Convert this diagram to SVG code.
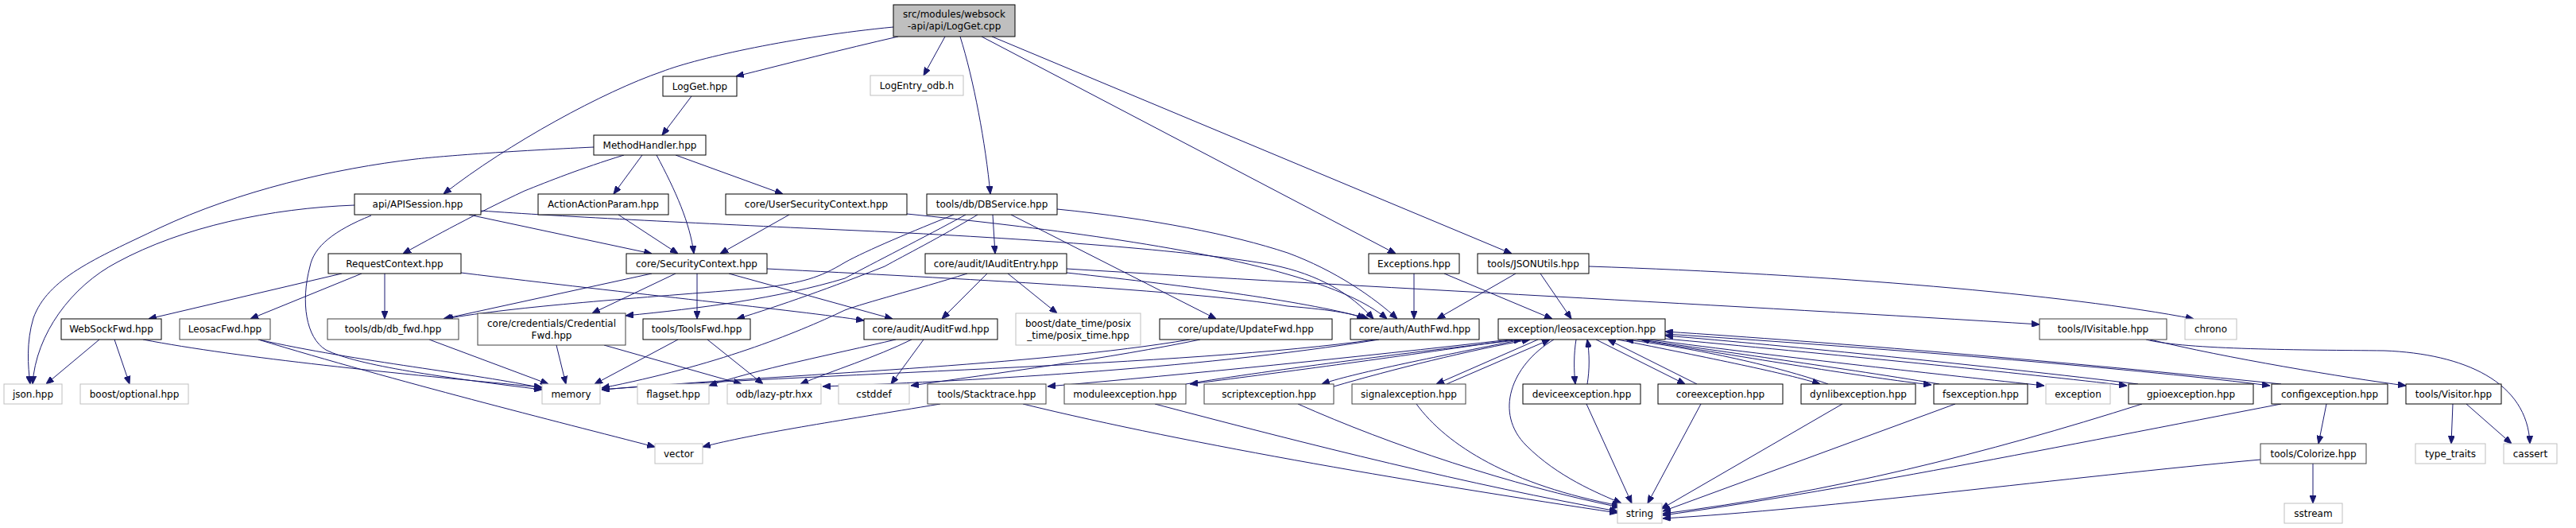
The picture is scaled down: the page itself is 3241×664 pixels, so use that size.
<svg xmlns="http://www.w3.org/2000/svg" width="3241" height="664" viewBox="0 0 3241 664">
<style>
rect{fill:#fff;stroke:#000;stroke-width:1}
.g rect{stroke:#bfbfbf}
.d rect{stroke:#404040}
.r rect{fill:#bfbfbf}
text{font-family:"DejaVu Sans","Liberation Sans",sans-serif;font-size:12px;text-anchor:middle;fill:#000}
#edges path{fill:none;stroke:#191970;stroke-width:1;marker-end:url(#a)}
</style>
<defs>
<marker id="a" markerUnits="userSpaceOnUse" markerWidth="10" markerHeight="8" viewBox="0 0 10 8" refX="10" refY="4" orient="auto"><path d="M0,0 L10,4 L0,8 z" fill="#191970" stroke="#191970"/></marker>
</defs>
<rect x="0" y="0" width="3241" height="664" style="stroke:none"/>
<g id="edges">
<path d="M1130,46 C1060,62 990,80 926,96"/>
<path d="M1189,46 L1162,95"/>
<path d="M1208,46 C1225,100 1240,180 1246,244"/>
<path d="M1235,46 L1756,319"/>
<path d="M1248,46 L1902,319"/>
<path d="M1124,34 C1000,46 880,72 833,90 C760,115 640,180 558,244"/>
<path d="M870,121 L833,170"/>
<path d="M747,185 C640,190 560,196 523,200 C420,212 300,240 200,287 C120,325 60,350 42,400 C33,430 35,460 38,483"/>
<path d="M808,195 L772,244"/>
<path d="M826,195 C850,240 868,280 873,319"/>
<path d="M850,195 L985,244"/>
<path d="M785,195 C730,212 690,228 660,240 C600,268 545,298 507,319"/>
<path d="M446,258 C340,262 230,285 147,330 C90,360 45,420 41,483"/>
<path d="M467,271 C420,290 395,310 390,335 C378,380 385,425 410,440 C450,460 560,475 682,490"/>
<path d="M590,270 L820,319"/>
<path d="M605,265 C700,272 900,282 1080,290 C1300,300 1500,315 1600,333 C1660,345 1700,370 1728,401"/>
<path d="M778,270 L853,319"/>
<path d="M993,270 L906,319"/>
<path d="M1141,269 C1300,285 1500,310 1620,345 C1680,362 1720,380 1745,401"/>
<path d="M1200,270 C1150,290 1090,315 1063,330 C1030,350 1010,355 960,362 C800,375 650,385 560,401"/>
<path d="M1215,270 C1160,300 1100,330 1063,350 C980,375 880,388 787,397"/>
<path d="M1230,270 C1180,300 1140,320 1113,335 C1050,360 980,385 927,401"/>
<path d="M1249,270 L1252,319"/>
<path d="M1272,270 L1530,401"/>
<path d="M1330,263 C1450,275 1550,295 1620,318 C1680,340 1730,375 1758,401"/>
<path d="M430,344 L187,401"/>
<path d="M455,344 L315,401"/>
<path d="M484,344 L484,401"/>
<path d="M580,343 C800,370 1000,390 1087,403"/>
<path d="M820,344 L558,401"/>
<path d="M850,344 L745,394"/>
<path d="M877,344 L877,401"/>
<path d="M917,344 L1123,401"/>
<path d="M965,338 C1200,350 1500,365 1620,385 C1680,390 1705,395 1717,401"/>
<path d="M1242,344 L1185,401"/>
<path d="M1268,344 L1330,394"/>
<path d="M1217,344 C1150,365 1090,380 1063,390 C1000,420 900,460 757,488"/>
<path d="M1342,343 C1500,360 1650,380 1722,401"/>
<path d="M1342,338 C1700,360 2200,385 2566,408"/>
<path d="M1779,344 L1779,401"/>
<path d="M1817,344 L1953,401"/>
<path d="M1907,344 L1808,401"/>
<path d="M1938,344 L1977,401"/>
<path d="M1999,335 C2300,345 2600,370 2760,401"/>
<path d="M125,427 L58,483"/>
<path d="M144,427 L163,483"/>
<path d="M180,427 C300,450 500,470 682,487"/>
<path d="M325,427 C450,455 600,470 682,488"/>
<path d="M325,427 C500,480 700,530 824,562"/>
<path d="M540,427 L690,483"/>
<path d="M700,434 L712,483"/>
<path d="M760,434 L933,483"/>
<path d="M853,427 L748,483"/>
<path d="M890,427 L960,483"/>
<path d="M1162,427 L1121,483"/>
<path d="M1147,427 C1100,450 1050,465 1007,483"/>
<path d="M1127,427 C1050,445 950,465 892,485"/>
<path d="M1497,427 C1300,460 1000,470 757,490"/>
<path d="M1510,427 C1400,450 1250,470 1146,485"/>
<path d="M1730,427 C1500,460 1000,470 757,490"/>
<path d="M1735,427 C1500,465 1200,480 1035,486"/>
<path d="M1900,427 C1700,450 1500,470 1318,486"/>
<path d="M1905,427 C1750,450 1600,470 1497,483"/>
<path d="M1492,483 C1600,465 1800,440 1915,427"/>
<path d="M1915,427 C1800,450 1700,470 1663,483"/>
<path d="M1678,486 C1750,465 1850,440 1925,427"/>
<path d="M1935,427 L1807,483"/>
<path d="M1820,483 L1950,427"/>
<path d="M1983,427 C1980,445 1980,465 1982,483"/>
<path d="M1997,483 C2000,465 2000,445 1997,427"/>
<path d="M2008,427 L2120,483"/>
<path d="M2135,483 L2023,427"/>
<path d="M2035,427 C2150,450 2250,470 2290,483"/>
<path d="M2300,483 C2250,465 2150,440 2045,427"/>
<path d="M2060,427 C2200,450 2350,475 2430,484"/>
<path d="M2440,483 C2300,460 2150,440 2065,427"/>
<path d="M2075,427 C2250,450 2450,472 2572,485"/>
<path d="M2085,425 C2300,445 2550,470 2676,485"/>
<path d="M2690,483 C2500,460 2250,435 2095,422"/>
<path d="M2095,420 C2400,440 2700,465 2856,485"/>
<path d="M2870,483 C2600,455 2300,430 2095,417"/>
<path d="M1955,427 C1900,460 1880,520 1920,560 C1960,600 2010,620 2040,633"/>
<path d="M1183,508 C1050,530 950,545 884,562"/>
<path d="M1287,508 C1500,560 1800,610 2035,645"/>
<path d="M1453,508 C1650,560 1850,610 2035,643"/>
<path d="M1633,508 C1750,560 1900,610 2038,638"/>
<path d="M1782,508 C1820,560 1900,610 2038,636"/>
<path d="M1996,508 L2053,633"/>
<path d="M2140,508 L2073,633"/>
<path d="M2318,508 L2090,640"/>
<path d="M2460,508 L2092,643"/>
<path d="M2695,508 C2500,570 2300,620 2092,646"/>
<path d="M2870,508 C2600,560 2300,620 2092,648"/>
<path d="M2927,508 L2917,558"/>
<path d="M2910,583 L2910,633"/>
<path d="M2844,578 C2600,600 2300,640 2092,652"/>
<path d="M2705,427 C2800,450 2950,475 3027,485"/>
<path d="M2700,427 C2750,440 2900,440 3000,441 C3100,445 3180,480 3183,558"/>
<path d="M3086,508 L3084,558"/>
<path d="M3103,508 L3160,558"/>
</g>
<g id="n_root" class="r"><rect x="1124" y="6" width="153" height="40"/><text x="1200.5" y="22">src/modules/websock</text><text x="1200.5" y="37">-api/api/LogGet.cpp</text></g>
<g id="n_logget"><rect x="834" y="96" width="93" height="25"/><text x="880.5" y="112.5">LogGet.hpp</text></g>
<g id="n_logentry" class="g"><rect x="1095" y="95" width="117" height="25"/><text x="1153.5" y="111.5">LogEntry_odb.h</text></g>
<g id="n_methodhandler"><rect x="747" y="170" width="141" height="25"/><text x="817.5" y="186.5">MethodHandler.hpp</text></g>
<g id="n_apisession"><rect x="446" y="244" width="159" height="26"/><text x="525.5" y="261">api/APISession.hpp</text></g>
<g id="n_actionparam"><rect x="677" y="244" width="164" height="26"/><text x="759" y="261">ActionActionParam.hpp</text></g>
<g id="n_usersec"><rect x="913" y="244" width="228" height="26"/><text x="1027" y="261">core/UserSecurityContext.hpp</text></g>
<g id="n_dbservice"><rect x="1166" y="244" width="164" height="26"/><text x="1248" y="261">tools/db/DBService.hpp</text></g>
<g id="n_requestctx"><rect x="413" y="319" width="167" height="25"/><text x="496.5" y="335.5">RequestContext.hpp</text></g>
<g id="n_secctx"><rect x="788" y="319" width="177" height="25"/><text x="876.5" y="335.5">core/SecurityContext.hpp</text></g>
<g id="n_iaudit"><rect x="1164" y="319" width="178" height="25"/><text x="1253" y="335.5">core/audit/IAuditEntry.hpp</text></g>
<g id="n_exceptions"><rect x="1722" y="319" width="114" height="25"/><text x="1779" y="335.5">Exceptions.hpp</text></g>
<g id="n_jsonutils"><rect x="1859" y="319" width="140" height="25"/><text x="1929" y="335.5">tools/JSONUtils.hpp</text></g>
<g id="n_websockfwd"><rect x="77" y="401" width="126" height="26"/><text x="140" y="418">WebSockFwd.hpp</text></g>
<g id="n_leosacfwd" class="d"><rect x="226" y="401" width="114" height="26"/><text x="283" y="418">LeosacFwd.hpp</text></g>
<g id="n_dbfwd" class="d"><rect x="412" y="401" width="165" height="26"/><text x="494.5" y="418">tools/db/db_fwd.hpp</text></g>
<g id="n_credfwd" class="d"><rect x="601" y="394" width="186" height="40"/><text x="694" y="411">core/credentials/Credential</text><text x="694" y="426">Fwd.hpp</text></g>
<g id="n_toolsfwd"><rect x="809" y="401" width="135" height="26"/><text x="876.5" y="418">tools/ToolsFwd.hpp</text></g>
<g id="n_auditfwd"><rect x="1087" y="401" width="168" height="26"/><text x="1171" y="418">core/audit/AuditFwd.hpp</text></g>
<g id="n_posix" class="g"><rect x="1278" y="394" width="157" height="40"/><text x="1356.5" y="411">boost/date_time/posix</text><text x="1356.5" y="426">_time/posix_time.hpp</text></g>
<g id="n_updatefwd"><rect x="1459" y="401" width="217" height="26"/><text x="1567.5" y="418">core/update/UpdateFwd.hpp</text></g>
<g id="n_authfwd"><rect x="1699" y="401" width="162" height="26"/><text x="1780" y="418">core/auth/AuthFwd.hpp</text></g>
<g id="n_leosacexc"><rect x="1885" y="401" width="210" height="26"/><text x="1990" y="418">exception/leosacexception.hpp</text></g>
<g id="n_ivisitable" class="d"><rect x="2566" y="401" width="160" height="26"/><text x="2646" y="418">tools/IVisitable.hpp</text></g>
<g id="n_chrono" class="g"><rect x="2749" y="401" width="65" height="26"/><text x="2781.5" y="418">chrono</text></g>
<g id="n_json" class="g"><rect x="5" y="483" width="73" height="25"/><text x="41.5" y="499.5">json.hpp</text></g>
<g id="n_optional" class="g"><rect x="101" y="483" width="136" height="25"/><text x="169" y="499.5">boost/optional.hpp</text></g>
<g id="n_memory" class="g"><rect x="682" y="483" width="73" height="25"/><text x="718.5" y="499.5">memory</text></g>
<g id="n_flagset" class="g"><rect x="802" y="483" width="90" height="25"/><text x="847" y="499.5">flagset.hpp</text></g>
<g id="n_lazyptr" class="g"><rect x="915" y="483" width="118" height="25"/><text x="974" y="499.5">odb/lazy-ptr.hxx</text></g>
<g id="n_cstddef" class="g"><rect x="1055" y="483" width="89" height="25"/><text x="1099.5" y="499.5">cstddef</text></g>
<g id="n_stacktrace" class="d"><rect x="1167" y="483" width="149" height="25"/><text x="1241.5" y="499.5">tools/Stacktrace.hpp</text></g>
<g id="n_moduleexc" class="d"><rect x="1339" y="483" width="153" height="25"/><text x="1415.5" y="499.5">moduleexception.hpp</text></g>
<g id="n_scriptexc" class="d"><rect x="1515" y="483" width="163" height="25"/><text x="1596.5" y="499.5">scriptexception.hpp</text></g>
<g id="n_signalexc" class="d"><rect x="1701" y="483" width="143" height="25"/><text x="1772.5" y="499.5">signalexception.hpp</text></g>
<g id="n_deviceexc"><rect x="1916" y="483" width="148" height="25"/><text x="1990" y="499.5">deviceexception.hpp</text></g>
<g id="n_coreexc"><rect x="2086" y="483" width="157" height="25"/><text x="2164.5" y="499.5">coreexception.hpp</text></g>
<g id="n_dynlibexc"><rect x="2266" y="483" width="144" height="25"/><text x="2338" y="499.5">dynlibexception.hpp</text></g>
<g id="n_fsexc"><rect x="2433" y="483" width="118" height="25"/><text x="2492" y="499.5">fsexception.hpp</text></g>
<g id="n_exception" class="g"><rect x="2574" y="483" width="81" height="25"/><text x="2614.5" y="499.5">exception</text></g>
<g id="n_gpioexc"><rect x="2678" y="483" width="157" height="25"/><text x="2756.5" y="499.5">gpioexception.hpp</text></g>
<g id="n_configexc"><rect x="2858" y="483" width="146" height="25"/><text x="2931" y="499.5">configexception.hpp</text></g>
<g id="n_visitor"><rect x="3027" y="483" width="120" height="25"/><text x="3087" y="499.5">tools/Visitor.hpp</text></g>
<g id="n_vector" class="g"><rect x="824" y="558" width="60" height="25"/><text x="854" y="574.5">vector</text></g>
<g id="n_colorize" class="d"><rect x="2844" y="558" width="133" height="25"/><text x="2910.5" y="574.5">tools/Colorize.hpp</text></g>
<g id="n_typetraits" class="g"><rect x="3039" y="558" width="88" height="25"/><text x="3083" y="574.5">type_traits</text></g>
<g id="n_cassert" class="g"><rect x="3150" y="558" width="67" height="25"/><text x="3183.5" y="574.5">cassert</text></g>
<g id="n_string" class="g"><rect x="2035" y="633" width="56" height="25"/><text x="2063" y="649.5">string</text></g>
<g id="n_sstream" class="g"><rect x="2874" y="633" width="73" height="25"/><text x="2910.5" y="649.5">sstream</text></g>
</svg>
